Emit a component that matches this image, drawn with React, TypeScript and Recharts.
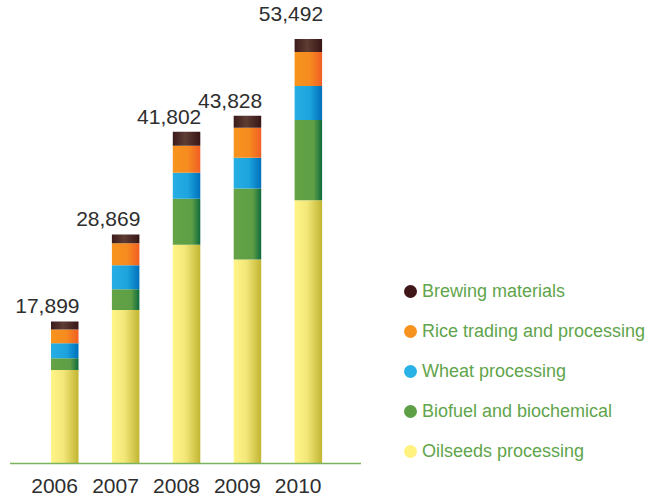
import React from "react";
import { BarChart, Bar, XAxis, YAxis, Legend, LabelList } from "recharts";

const years = ["2006", "2007", "2008", "2009", "2010"];
const oilseeds = [11766, 19330, 27573, 25693, 33181];
const biofuel = [1502, 2636, 5792, 8942, 10093];
const wheat = [1878, 3012, 3274, 3904, 4289];
const rice = [1752, 2761, 3400, 3778, 4289];
const brewing = [1001, 1130, 1763, 1511, 1640];
const totals = [17899, 28869, 41802, 43828, 53492];

const data = years.map((y, i) => ({
  year: y,
  oilseeds: oilseeds[i],
  biofuel: biofuel[i],
  wheat: wheat[i],
  rice: rice[i],
  brewing: brewing[i],
  total: totals[i],
}));

const series = [
  { key: "oilseeds", name: "Oilseeds processing", grad: "gY", dot: "#FFF27F" },
  { key: "biofuel", name: "Biofuel and biochemical", grad: "gG", dot: "#5E9E45" },
  { key: "wheat", name: "Wheat processing", grad: "gB", dot: "#29B2E6" },
  { key: "rice", name: "Rice trading and processing", grad: "gO", dot: "#F7921E" },
  { key: "brewing", name: "Brewing materials", grad: "gR", dot: "#3F1718" },
];

const FONT = "'Liberation Sans', Arial, sans-serif";
const LEGEND_W = 250;

const Tick = (props: any) => {
  const { x, y, payload } = props;
  return (
    <text x={x + 13.5} y={y + 21.5} textAnchor="end" fontFamily={FONT} fontSize={21} fill="#2e2e2e">
      {payload.value}
    </text>
  );
};

const TotalLabel = (props: any) => {
  const { x, y, width, value, index } = props;
  const extra = index === 4 ? 10 : 0;
  return (
    <text x={x + width + 1} y={y - 8 - extra} textAnchor="end" fontFamily={FONT} fontSize={21} fill="#2e2e2e">
      {Number(value).toLocaleString("en-US")}
    </text>
  );
};

const LegendContent = () => (
  <div style={{ fontFamily: FONT, width: LEGEND_W }}>
    {[...series].reverse().map((s) => (
      <div key={s.key} style={{ display: "flex", alignItems: "center", height: 40 }}>
        <span
          style={{
            display: "inline-block",
            width: 13,
            height: 13,
            borderRadius: "50%",
            background: s.dot,
            marginRight: 5,
          }}
        />
        <span style={{ color: "#5FA54B", fontSize: 18, whiteSpace: "nowrap" }}>{s.name}</span>
      </div>
    ))}
  </div>
);

export default function App() {
  return (
    <div style={{ position: "absolute", left: 0, top: 0, width: 653, height: 501, background: "#fff" }}>
      <BarChart
        width={653}
        height={501}
        data={data}
        margin={{ top: 13.5, right: 292 - LEGEND_W, bottom: 7.5, left: 10 }}
      >
        <defs>
          <linearGradient id="gY" x1="0" y1="0" x2="1" y2="0">
            <stop offset="0%" stopColor="#FFF585" />
            <stop offset="45%" stopColor="#F3E77A" />
            <stop offset="100%" stopColor="#C2B532" />
          </linearGradient>
          <linearGradient id="gG" x1="0" y1="0" x2="1" y2="0">
            <stop offset="0%" stopColor="#64A446" />
            <stop offset="70%" stopColor="#5E9E45" />
            <stop offset="100%" stopColor="#0E6A3C" />
          </linearGradient>
          <linearGradient id="gB" x1="0" y1="0" x2="1" y2="0">
            <stop offset="0%" stopColor="#27AEE4" />
            <stop offset="55%" stopColor="#1DA4DE" />
            <stop offset="100%" stopColor="#0070BA" />
          </linearGradient>
          <linearGradient id="gO" x1="0" y1="0" x2="1" y2="0">
            <stop offset="0%" stopColor="#F7941D" />
            <stop offset="55%" stopColor="#F68B1F" />
            <stop offset="100%" stopColor="#F15F24" />
          </linearGradient>
          <linearGradient id="gR" x1="0" y1="0" x2="1" y2="0">
            <stop offset="0%" stopColor="#3C1B1B" />
            <stop offset="45%" stopColor="#5E3D34" />
            <stop offset="100%" stopColor="#381616" />
          </linearGradient>
        </defs>
        <XAxis
          dataKey="year"
          axisLine={{ stroke: "#7BB35E", strokeWidth: 1.5 }}
          tickLine={false}
          tick={<Tick />}
          padding={{ left: 24, right: 22.5 }}
          height={30}
          interval={0}
        />
        <YAxis hide domain={[0, 56700]} allowDataOverflow />
        <Legend
          layout="vertical"
          align="right"
          verticalAlign="middle"
          content={<LegendContent />}
          wrapperStyle={{ position: "absolute", left: 404, top: 271, width: LEGEND_W }}
        />
        {series.map((s, i) => (
          <Bar
            key={s.key}
            dataKey={s.key}
            name={s.name}
            stackId="a"
            fill={`url(#${s.grad})`}
            barSize={27.5}
            isAnimationActive={false}
          >
            {i === series.length - 1 ? (
              <LabelList dataKey="total" content={<TotalLabel />} />
            ) : null}
          </Bar>
        ))}
      </BarChart>
    </div>
  );
}
